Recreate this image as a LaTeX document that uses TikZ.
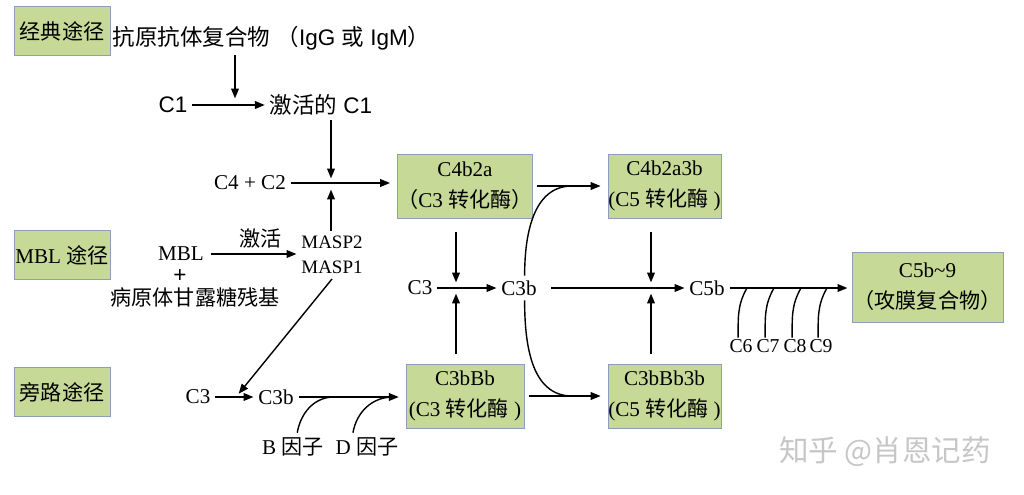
\documentclass[tikz,border=0pt]{standalone}
\usepackage{fontspec}
\setmainfont{Liberation Serif}
\setsansfont{Liberation Sans}
\newfontfamily\cjk{Noto Sans CJK SC}
\newcommand{\zh}[1]{{\cjk #1}}
\usetikzlibrary{arrows.meta}
\definecolor{boxgreen}{RGB}{198,217,151}
\definecolor{boxline}{RGB}{140,158,190}

\begin{document}
\begin{tikzpicture}[x=0.025cm,y=-0.025cm,
	every node/.style={font=\fontsize{15}{22}\selectfont},
	sans/.style={font=\sffamily\fontsize{16}{22}\selectfont},
	pathbox/.style={draw=boxline, fill=boxgreen, minimum width=2.4cm, minimum height=1.22cm, inner sep=0pt},
	enzbox/.style={draw=boxline, fill=boxgreen, minimum width=2.95cm, minimum height=1.6cm, align=center, inner sep=0pt},
	arr/.style={-{Triangle[length=7pt,width=5.5pt]}, line width=1pt},
	curve/.style={line width=1pt}]
	\useasboundingbox (0,0) rectangle (1024,494);

	% pathway labels
	\node[pathbox] (classic) at (62,31) {\zh{经典途径}};
	\node[pathbox] (lectin) at (62,255) {MBL \zh{途径}};
	\node[pathbox] (altern) at (62,392) {\zh{旁路途径}};

	% classical pathway
	\node[sans, anchor=west] (agab) at (108,38) {\zh{抗原抗体复合物} \zh{（}IgG \zh{或} IgM\zh{）}};
	\node[sans] (c1) at (173,105) {C1};
	\node[sans] (c1act) at (321,105) {\zh{激活的} C1};
	\coordinate (j1) at (235,104);
	\coordinate (j2) at (331,184);
	\draw[arr, shorten >=4pt] (agab.south -| j1) -- (j1);
	\draw[arr] (c1) -- (c1act);
	\draw[arr, shorten >=4pt] (c1act.south -| j2) -- (j2);
	\node (c4c2) at (250,183) {C4 + C2};

	% convertases
	\node[enzbox] (c3conv) at (465,186) {C4b2a\\\zh{（}C3 \zh{转化酶）}};
	\node[enzbox, minimum width=2.83cm] (c5conv) at (664.5,186) {C4b2a3b\\(C5 \zh{转化酶} )};
	\node[enzbox] (c3convalt) at (465,396) {C3bBb\\(C3 \zh{转化酶} )};
	\node[enzbox, minimum width=2.83cm] (c5convalt) at (664.5,396) {C3bBb3b\\(C5 \zh{转化酶} )};
	\node[enzbox, minimum width=3.78cm, minimum height=1.75cm] (mac) at (927.5,287) {C5b\textasciitilde9\\\zh{（攻膜复合物）}};
	\draw[arr, shorten >=5pt] (c4c2) -- (c4c2 -| c3conv.west);

	% MBL pathway
	\node[inner sep=2pt] (mbl) at (181,254) {MBL};
	\node[sans, inner sep=0pt] (plus) at (180,276) {+};
	\node (sugar) at (195,297) {\zh{病原体甘露糖残基}};
	\node[font=\fontsize{13.5}{18}\selectfont, align=center] (masp) at (332,255) {MASP2\\MASP1};
	\draw[arr, shorten <=3pt] (mbl) -- (mbl -| masp.west) node[pos=0.6, above] {\zh{激活}};
	\draw[arr, shorten >=4pt] (masp.north -| j2) -- (j2);
	\coordinate (j3) at (236,397);
	\draw[arr, shorten >=3pt] (masp.south) -- (j3);

	% alternative pathway
	\node (c3a) at (198,397) {C3};
	\node (c3ba) at (276,397) {C3b};
	\draw[arr] (c3a) -- (c3ba);
	\draw[arr, shorten >=5pt] (c3ba) -- (c3ba -| c3convalt.west);
	\node (bfac) at (293,447) {B \zh{因子}};
	\node (dfac) at (367,447) {D \zh{因子}};
	\coordinate (bj) at (334,397);
	\coordinate (dj) at (393,397);
	\draw[curve] ([xshift=3pt]bfac.north) to[out=80,in=180] (bj);
	\draw[curve] ([xshift=-10pt]dfac.north) to[out=80,in=180] (dj);

	% middle row
	\node (c3m) at (420,288) {C3};
	\node (c3bm) at (519,288) {C3b};
	\node (c5b) at (707,288) {C5b};
	\coordinate (j4) at (456,288);
	\coordinate (j5) at (651,288);
	\draw[arr] (c3m) -- (c3bm);
	\draw[arr, shorten <=10pt, shorten >=4pt] (c3conv.south -| j4) -- (j4);
	\draw[arr, shorten <=7pt, shorten >=4pt] (c3convalt.north -| j4) -- (j4);
	\draw[arr, shorten <=7pt] (c3bm) -- (c5b);
	\draw[arr, shorten <=10pt, shorten >=4pt] (c5conv.south -| j5) -- (j5);
	\draw[arr, shorten <=7pt, shorten >=4pt] (c5convalt.north -| j5) -- (j5);

	% C3b joins the convertases
	\draw[arr, shorten <=3pt, shorten >=5pt] (c3conv) -- (c5conv);
	\draw[arr, shorten <=3pt, shorten >=5pt] (c3convalt) -- (c5convalt);
	\coordinate (uj) at (572,186);
	\coordinate (lj) at (572,396);
	\draw[curve] ([xshift=4pt]c3bm.north) to[out=90,in=180] (uj);
	\draw[curve] ([xshift=4pt]c3bm.south) to[out=-90,in=180] (lj);

	% terminal components
	\draw[arr, shorten >=3pt] (c5b) -- (c5b -| mac.west);
	\foreach \n/\x in {6/741,7/768,8/795,9/821} {
		\node[font=\fontsize{14}{16}\selectfont, inner sep=1pt] (c\n) at (\x,346) {C\n};
		\draw[curve] ([xshift=-2pt]c\n.north) to[out=90,in=240] (\x+6,288);
	}

	\node[text=gray!45, font=\cjk\fontsize{21}{24}\selectfont] (mark) at (885,452) {知乎 @肖恩记药};
\end{tikzpicture}
\end{document}
